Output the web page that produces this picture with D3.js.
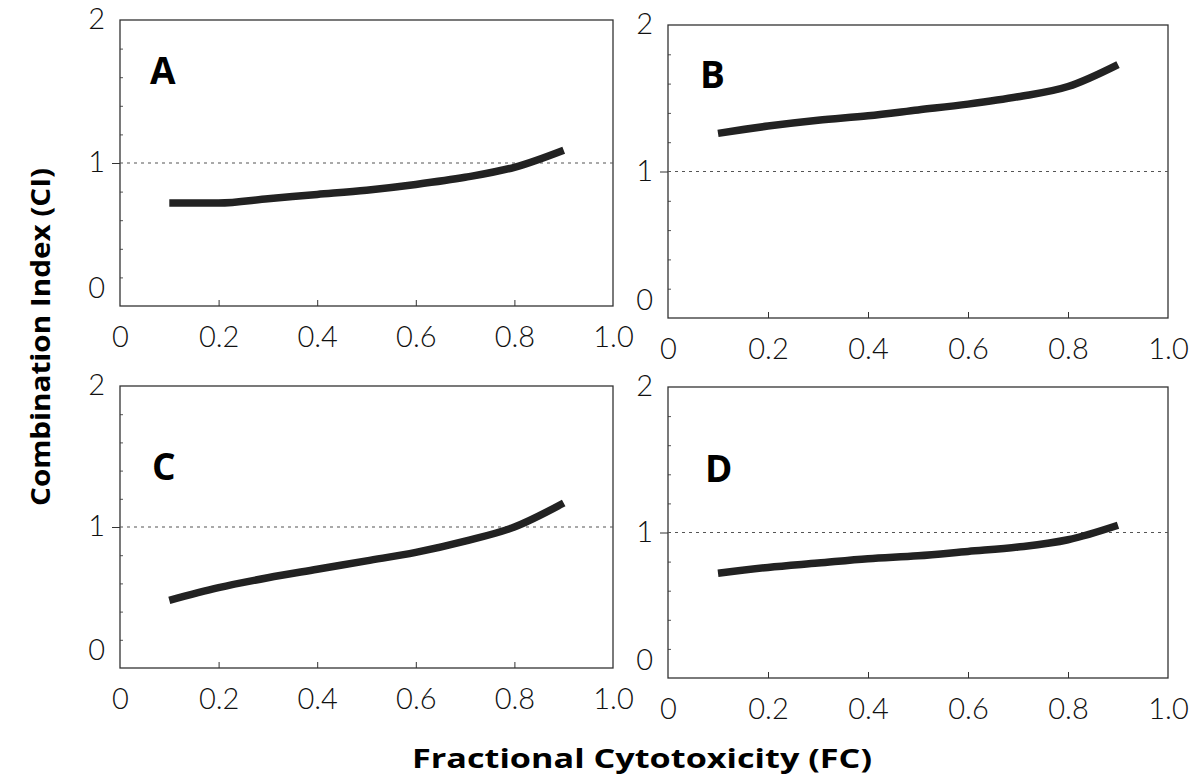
<!DOCTYPE html>
<html lang="en">
<head>
<meta charset="utf-8">
<title>Combination index</title>
<script src="https://cdn.jsdelivr.net/npm/d3@7"></script>
<style>
  body { margin: 0; background: #fff; }
</style>
</head>
<body>
<script>

// -- Data -- //

const fcValues = [0.1, 0.2, 0.3, 0.4, 0.5, 0.6, 0.7, 0.8, 0.9];
const ciA = [0.72, 0.72, 0.75, 0.78, 0.81, 0.85, 0.90, 0.97, 1.09];
const ciB = [1.26, 1.31, 1.35, 1.38, 1.42, 1.46, 1.51, 1.58, 1.73];
const ciC = [0.48, 0.57, 0.64, 0.70, 0.76, 0.82, 0.90, 1.00, 1.17];
const ciD = [0.72, 0.76, 0.79, 0.82, 0.84, 0.87, 0.90, 0.95, 1.05];
const panelNames = ["A", "B", "C", "D"];
const xTickValues = [0, 0.2, 0.4, 0.6, 0.8, 1.0];
const xTickLabels = ["0", "0.2", "0.4", "0.6", "0.8", "1.0"];
const yTickValues = [0, 1, 2];
const yMinorValues = [0.2, 0.4, 0.6, 0.8, 1.2, 1.4, 1.6, 1.8];

// -- Setting -- //

const width = 1191;
const height = 776;

// panel boxes [left, top, right, bottom] in pixels
const boxes = [
    [120, 20, 613, 306],
    [668, 25, 1168, 318],
    [120, 386, 613, 668],
    [668, 387, 1168, 678]
];
const labelPos = [[150, 84], [700, 88], [152, 480], [705, 482]];

const svg = d3.select("body")
    .append("svg")
    .attr("width", width)
    .attr("height", height);

const tickFont = "Lato, 'DejaVu Sans', sans-serif";
const titleFont = "'Open Sans', Lato, sans-serif";

let series = [ciA, ciB, ciC, ciD];

series.forEach(function(ci, i) {
    const b = boxes[i];
    const x = d3.scaleLinear().domain([0, 1]).range([b[0], b[2]]);
    const y = d3.scaleLinear().domain([0, 2]).range([b[3], b[1]]);
    const g = svg.append("g");

    // x tick labels
    g.append("g")
        .attr("transform", `translate(0,${b[3]})`)
        .call(d3.axisBottom(x)
            .tickValues(xTickValues)
            .tickFormat((d, k) => xTickLabels[k])
            .tickSize(0)
            .tickPadding(20))
        .call(a => a.select(".domain").remove())
        .selectAll("text")
        .attr("font-family", tickFont)
        .attr("font-weight", 300)
        .attr("font-size", 29)
        .attr("fill", "#111");

    // x inner ticks
    g.append("g")
        .attr("transform", `translate(0,${b[3]})`)
        .call(d3.axisBottom(x).tickValues([0.2, 0.4, 0.6, 0.8]).tickSize(-6).tickFormat(""))
        .call(a => a.select(".domain").remove())
        .selectAll("line").attr("stroke", "#333");

    // y tick labels
    g.append("g")
        .attr("transform", `translate(${b[0]},0)`)
        .call(d3.axisLeft(y).tickValues(yTickValues).tickFormat(d3.format("d")).tickSize(0).tickPadding(15))
        .call(a => a.select(".domain").remove())
        .selectAll("text")
        .attr("dy", d => d === 0 ? "-0.3em" : "0.3em")
        .attr("font-family", tickFont)
        .attr("font-weight", 300)
        .attr("font-size", 29)
        .attr("fill", "#111");

    // y minor ticks (inside) and major tick at 1 (outside)
    g.append("g")
        .attr("transform", `translate(${b[0]},0)`)
        .call(d3.axisLeft(y).tickValues(yMinorValues).tickSize(-3).tickFormat(""))
        .call(a => a.select(".domain").remove())
        .selectAll("line").attr("stroke", "#555");
    g.append("g")
        .attr("transform", `translate(${b[0]},0)`)
        .call(d3.axisLeft(y).tickValues([1]).tickSize(8).tickFormat(""))
        .call(a => a.select(".domain").remove())
        .selectAll("line").attr("stroke", "#333");

    // frame
    g.append("rect")
        .attr("x", b[0])
        .attr("y", b[1])
        .attr("width", b[2] - b[0])
        .attr("height", b[3] - b[1])
        .attr("fill", "none")
        .attr("stroke", "#333")
        .attr("stroke-width", 1.3);

    // CI = 1 reference line
    g.append("line")
        .attr("x1", b[0]).attr("x2", b[2])
        .attr("y1", y(1)).attr("y2", y(1))
        .attr("stroke", "#555")
        .attr("stroke-width", 1.2)
        .attr("stroke-dasharray", "3,4");

    // CI curve
    const line = d3.line()
        .x((d, k) => x(fcValues[k]))
        .y(d => y(d))
        .curve(d3.curveMonotoneX);
    g.append("path")
        .datum(ci)
        .attr("d", line)
        .attr("fill", "none")
        .attr("stroke", "#222")
        .attr("stroke-width", 7.5)
        .attr("stroke-linejoin", "round");

    // panel letter
    g.append("text")
        .attr("x", labelPos[i][0])
        .attr("y", labelPos[i][1])
        .attr("font-family", titleFont)
        .attr("font-weight", "bold")
        .attr("font-size", 37)
        .attr("fill", "#000")
        .text(panelNames[i]);
});

// axis titles
svg.append("text")
    .attr("x", 642)
    .attr("y", 768)
    .attr("text-anchor", "middle")
    .attr("font-family", titleFont)
    .attr("font-weight", "bold")
    .attr("font-size", 27)
    .attr("textLength", 460)
    .attr("lengthAdjust", "spacingAndGlyphs")
    .text("Fractional Cytotoxicity (FC)");

svg.append("text")
    .attr("transform", "translate(50,337) rotate(-90)")
    .attr("text-anchor", "middle")
    .attr("font-family", titleFont)
    .attr("font-weight", "bold")
    .attr("font-size", 27)
    .attr("textLength", 338)
    .attr("lengthAdjust", "spacingAndGlyphs")
    .text("Combination Index (CI)");

</script>
</body>
</html>
